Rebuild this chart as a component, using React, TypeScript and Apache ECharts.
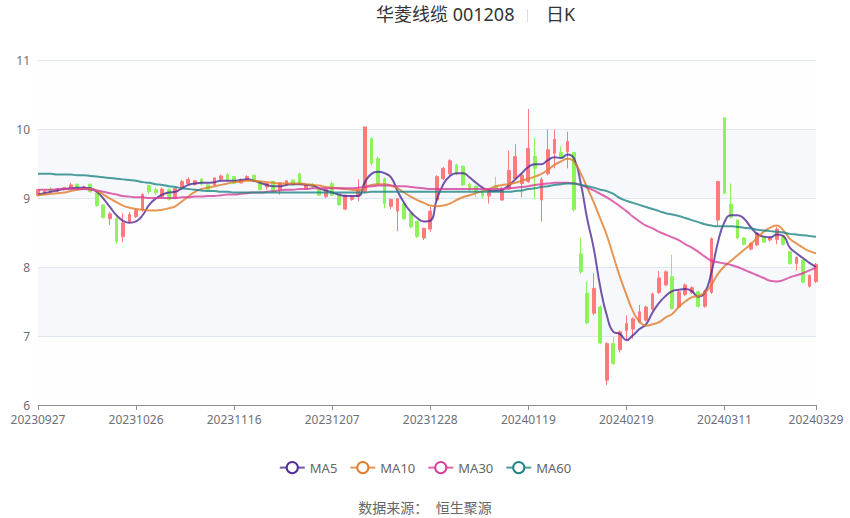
import * as echarts from 'echarts';
import { useEffect, useRef } from 'react';

const dates = [
  '20230927', '20230928',
  '20231009', '20231010', '20231011', '20231012', '20231013', '20231016', '20231017', '20231018', '20231019', '20231020',
  '20231023', '20231024', '20231025', '20231026', '20231027', '20231030', '20231031',
  '20231101', '20231102', '20231103', '20231106', '20231107', '20231108', '20231109', '20231110', '20231113', '20231114',
  '20231115', '20231116', '20231117', '20231120', '20231121', '20231122', '20231123', '20231124', '20231127', '20231128',
  '20231129', '20231130',
  '20231201', '20231204', '20231205', '20231206', '20231207', '20231208', '20231211', '20231212', '20231213', '20231214',
  '20231215', '20231218', '20231219', '20231220', '20231221', '20231222', '20231225', '20231226', '20231227', '20231228',
  '20231229',
  '20240102', '20240103', '20240104', '20240105', '20240108', '20240109', '20240110', '20240111', '20240112', '20240115',
  '20240116', '20240117', '20240118', '20240119', '20240122', '20240123', '20240124', '20240125', '20240126', '20240129',
  '20240130', '20240131',
  '20240201', '20240202', '20240205', '20240206', '20240207', '20240208', '20240219', '20240220', '20240221', '20240222',
  '20240223', '20240226', '20240227', '20240228', '20240229',
  '20240301', '20240304', '20240305', '20240306', '20240307', '20240308', '20240311', '20240312', '20240313', '20240314',
  '20240315', '20240318', '20240319', '20240320', '20240321', '20240322', '20240325', '20240326', '20240327', '20240328',
  '20240329',
];

// [open, close, low, high]
const kline: number[][] = [
  [9.04, 9.12, 9.02, 9.13], [9.07, 9.1, 9.05, 9.12], [9.13, 9.1, 9.08, 9.16], [9.1, 9.13, 9.09, 9.14],
  [9.12, 9.15, 9.11, 9.16], [9.15, 9.19, 9.14, 9.22], [9.2, 9.13, 9.12, 9.21], [9.15, 9.16, 9.13, 9.18],
  [9.2, 9.09, 9.08, 9.21], [9.07, 8.89, 8.87, 9.08], [8.9, 8.72, 8.7, 8.91], [8.7, 8.77, 8.61, 8.8],
  [8.7, 8.37, 8.33, 8.72], [8.44, 8.64, 8.36, 8.78], [8.66, 8.76, 8.64, 8.8], [8.73, 8.82, 8.71, 8.85],
  [8.83, 9.05, 8.8, 9.07], [9.18, 9.09, 9.06, 9.19], [9.12, 9.08, 9.05, 9.15], [9.02, 9.13, 9.0, 9.15],
  [9.12, 8.98, 8.96, 9.14], [9.0, 9.14, 8.98, 9.15], [9.14, 9.24, 9.12, 9.26], [9.21, 9.27, 9.19, 9.3],
  [9.2, 9.25, 9.18, 9.26], [9.27, 9.2, 9.18, 9.29], [9.19, 9.12, 9.1, 9.2], [9.19, 9.29, 9.17, 9.3],
  [9.27, 9.32, 9.25, 9.34], [9.34, 9.27, 9.25, 9.36], [9.31, 9.21, 9.2, 9.32], [9.22, 9.27, 9.21, 9.28],
  [9.26, 9.31, 9.25, 9.33], [9.33, 9.24, 9.23, 9.34], [9.24, 9.12, 9.11, 9.25], [9.16, 9.21, 9.12, 9.22],
  [9.24, 9.09, 9.08, 9.25], [9.12, 9.22, 9.05, 9.23], [9.19, 9.25, 9.18, 9.26], [9.26, 9.19, 9.18, 9.27],
  [9.35, 9.2, 9.19, 9.37], [9.14, 9.19, 9.12, 9.2], [9.2, 9.16, 9.14, 9.22], [9.14, 9.04, 9.03, 9.15],
  [9.02, 9.12, 9.0, 9.13], [9.21, 9.04, 9.03, 9.24], [9.04, 8.9, 8.89, 9.05], [8.84, 9.04, 8.82, 9.05],
  [8.98, 9.02, 8.96, 9.04], [9.02, 9.12, 8.95, 9.27], [9.09, 10.03, 9.07, 10.03], [9.86, 9.5, 9.47, 9.88],
  [9.57, 9.21, 9.19, 9.6], [9.28, 8.92, 8.85, 9.3], [8.88, 8.98, 8.84, 8.99], [8.81, 8.99, 8.52, 9.0],
  [8.92, 8.7, 8.68, 8.94], [8.78, 8.58, 8.56, 8.79], [8.66, 8.44, 8.42, 8.67], [8.42, 8.56, 8.39, 8.57],
  [8.55, 8.81, 8.51, 8.87], [8.97, 9.31, 8.95, 9.33], [9.28, 9.43, 9.26, 9.45], [9.35, 9.54, 9.33, 9.56],
  [9.48, 9.35, 9.33, 9.5], [9.46, 9.19, 9.17, 9.47], [9.2, 9.12, 9.1, 9.22], [9.17, 9.1, 9.02, 9.19],
  [9.08, 9.03, 9.0, 9.1], [9.03, 9.12, 8.92, 9.14], [9.18, 9.12, 9.1, 9.31], [8.97, 9.14, 8.96, 9.16],
  [9.13, 9.4, 9.12, 9.69], [9.28, 9.6, 9.26, 9.78], [9.21, 9.33, 9.01, 9.35], [9.24, 9.72, 9.22, 10.29],
  [9.6, 9.43, 8.99, 9.87], [8.97, 9.27, 8.66, 9.3], [9.35, 9.7, 9.33, 9.99], [9.65, 9.85, 9.43, 9.99],
  [9.66, 9.59, 9.57, 9.75], [9.67, 9.82, 9.43, 9.96], [9.66, 8.83, 8.8, 9.67], [8.19, 7.93, 7.9, 8.43],
  [7.62, 7.19, 7.17, 7.79], [7.33, 7.69, 7.3, 7.91], [7.42, 6.9, 6.88, 7.44], [6.36, 6.89, 6.29, 6.91],
  [6.89, 6.6, 6.58, 6.99], [6.8, 7.06, 6.76, 7.08], [7.08, 7.18, 6.94, 7.3], [7.1, 7.25, 6.96, 7.27],
  [7.2, 7.35, 7.18, 7.45], [7.23, 7.42, 7.21, 7.44], [7.39, 7.61, 7.37, 7.63], [7.63, 7.84, 7.61, 7.94],
  [7.74, 7.93, 7.72, 7.95], [7.86, 7.4, 7.38, 8.18], [7.42, 7.64, 7.4, 7.66], [7.6, 7.74, 7.58, 7.76],
  [7.63, 7.7, 7.61, 7.72], [7.64, 7.43, 7.41, 7.66], [7.43, 7.65, 7.41, 7.67], [7.63, 8.41, 7.61, 8.43],
  [8.68, 9.24, 8.6, 9.25], [10.16, 9.07, 9.06, 10.17], [8.91, 8.72, 8.7, 9.21], [8.68, 8.42, 8.4, 8.69],
  [8.42, 8.33, 8.31, 8.43], [8.26, 8.34, 8.24, 8.36], [8.32, 8.49, 8.3, 8.5], [8.43, 8.36, 8.35, 8.44],
  [8.39, 8.43, 8.37, 8.44], [8.4, 8.55, 8.33, 8.58], [8.44, 8.33, 8.31, 8.45], [8.22, 8.05, 8.03, 8.23],
  [8.05, 8.14, 7.95, 8.15], [8.1, 7.78, 7.76, 8.11], [7.72, 7.88, 7.7, 7.89], [7.79, 8.04, 7.77, 8.06],
];

const ma5 = [
  9.05, 9.07, 9.09, 9.11, 9.13, 9.14, 9.15, 9.15, 9.14, 9.09, 8.99, 8.87, 8.75, 8.67, 8.64, 8.66, 8.75, 8.9, 8.99, 9.05,
  9.08, 9.09, 9.14, 9.19, 9.21, 9.22, 9.22, 9.23, 9.25, 9.25, 9.25, 9.26, 9.27, 9.25, 9.22, 9.19, 9.17, 9.17, 9.19, 9.2,
  9.2, 9.19, 9.18, 9.14, 9.11, 9.08, 9.05, 9.03, 9.03, 9.03, 9.23, 9.35, 9.38, 9.36, 9.3, 9.1, 8.93, 8.8, 8.71, 8.66,
  8.67, 8.98, 9.2, 9.32, 9.36, 9.36, 9.3, 9.22, 9.15, 9.11, 9.1, 9.12, 9.18, 9.27, 9.36, 9.45, 9.49, 9.49, 9.55, 9.59,
  9.58, 9.63, 9.57, 9.22, 8.7, 8.27, 7.71, 7.3, 7.06, 7.03, 6.94, 7.01, 7.1, 7.17, 7.34, 7.48, 7.58, 7.65, 7.67, 7.68,
  7.65, 7.57, 7.63, 7.92, 8.36, 8.65, 8.75, 8.75, 8.7, 8.58, 8.48, 8.44, 8.43, 8.47, 8.45, 8.28, 8.2, 8.13, 8.06, 8.0,
];

const ma10 = [
  9.04, 9.05, 9.06, 9.07, 9.08, 9.1, 9.12, 9.13, 9.13, 9.1, 9.05, 8.99, 8.94, 8.89, 8.86, 8.84, 8.83, 8.82, 8.82, 8.83,
  8.85, 8.88, 8.95, 9.02, 9.09, 9.13, 9.15, 9.17, 9.19, 9.21, 9.23, 9.24, 9.25, 9.25, 9.24, 9.23, 9.22, 9.21, 9.21, 9.21,
  9.21, 9.2, 9.19, 9.18, 9.16, 9.15, 9.14, 9.13, 9.12, 9.11, 9.15, 9.19, 9.2, 9.2, 9.18, 9.14, 9.08, 9.02, 8.97, 8.93,
  8.89, 8.88, 8.89, 8.92, 8.97, 9.01, 9.04, 9.07, 9.1, 9.13, 9.17, 9.19, 9.2, 9.22, 9.25, 9.28, 9.31, 9.35, 9.41, 9.48,
  9.53, 9.57, 9.52, 9.36, 9.15, 8.94, 8.7, 8.46, 8.16, 7.86, 7.6, 7.36, 7.21, 7.15, 7.17, 7.2, 7.27, 7.32, 7.42, 7.5,
  7.56, 7.58, 7.63, 7.74, 7.9, 8.01, 8.09, 8.17, 8.25, 8.33, 8.42, 8.51, 8.57, 8.6, 8.53, 8.41, 8.34, 8.28, 8.23, 8.2,
];

const ma30 = [
  9.12, 9.12, 9.12, 9.13, 9.13, 9.13, 9.13, 9.13, 9.12, 9.11, 9.09, 9.07, 9.05, 9.03, 9.02, 9.01, 9.01, 9.0, 9.0, 9.0,
  9.0, 9.0, 9.01, 9.01, 9.02, 9.02, 9.03, 9.03, 9.04, 9.05, 9.05, 9.06, 9.07, 9.08, 9.08, 9.09, 9.1, 9.11, 9.12, 9.12,
  9.13, 9.13, 9.14, 9.14, 9.14, 9.14, 9.14, 9.14, 9.14, 9.15, 9.16, 9.17, 9.18, 9.18, 9.18, 9.17, 9.17, 9.16, 9.15, 9.14,
  9.13, 9.13, 9.13, 9.13, 9.13, 9.13, 9.13, 9.13, 9.13, 9.13, 9.13, 9.13, 9.14, 9.15, 9.16, 9.17, 9.19, 9.2, 9.21, 9.22,
  9.22, 9.22, 9.21, 9.19, 9.15, 9.11, 9.06, 9.01, 8.95, 8.88, 8.81, 8.73, 8.66, 8.6, 8.56, 8.51, 8.47, 8.43, 8.39, 8.33,
  8.28, 8.22, 8.15, 8.09, 8.07, 8.05, 8.03, 8.0, 7.96, 7.92, 7.88, 7.84, 7.8, 7.79, 7.81, 7.85, 7.88, 7.91, 7.95, 7.99,
];

const ma60 = [
  9.35, 9.35, 9.35, 9.34, 9.34, 9.34, 9.33, 9.33, 9.32, 9.31, 9.3, 9.29, 9.28, 9.27, 9.26, 9.25, 9.23, 9.22, 9.2, 9.19,
  9.17, 9.16, 9.14, 9.13, 9.12, 9.11, 9.1, 9.1, 9.09, 9.09, 9.08, 9.08, 9.08, 9.08, 9.08, 9.08, 9.08, 9.08, 9.08, 9.08,
  9.08, 9.08, 9.08, 9.08, 9.08, 9.08, 9.08, 9.08, 9.08, 9.08, 9.08, 9.09, 9.09, 9.09, 9.09, 9.09, 9.09, 9.09, 9.09, 9.09,
  9.09, 9.09, 9.09, 9.09, 9.09, 9.09, 9.09, 9.09, 9.09, 9.09, 9.09, 9.09, 9.09, 9.1, 9.11, 9.13, 9.14, 9.16, 9.17, 9.19,
  9.2, 9.21, 9.21, 9.19, 9.17, 9.15, 9.12, 9.1, 9.06, 9.0, 8.96, 8.93, 8.9, 8.87, 8.84, 8.81, 8.78, 8.76, 8.74, 8.71,
  8.68, 8.65, 8.62, 8.6, 8.59, 8.59, 8.59, 8.58, 8.57, 8.56, 8.54, 8.53, 8.52, 8.51, 8.5, 8.48, 8.47, 8.46, 8.45, 8.44,
];

const maNames = ['MA5', 'MA10', 'MA30', 'MA60'];
const maColors = ['#4f2c96', '#e07c2a', '#d4409a', '#1f8585'];
const yTicks = { min: 6, max: 11, interval: 1 };

const upColor = '#ff7b7b';
const downColor = '#8ef25a';
const fontFamily = "'Noto Sans', 'Noto Sans CJK SC', sans-serif";

function buildOption() {
  const maData = [ma5, ma10, ma30, ma60];
  const lastIndex = dates.length - 1;
  const showLabel = (index: number) => index % 15 === 0 || index === lastIndex;
  return {
    animation: false,
    textStyle: { fontFamily },
    grid: { left: 38, right: 34, top: 60, bottom: 113 },
    legend: {
      data: maNames,
      top: 456,
      left: 'center',
      itemWidth: 25,
      itemHeight: 14,
      itemGap: 12,
      textStyle: { color: '#666', fontSize: 13, fontFamily },
    },
    xAxis: {
      type: 'category',
      data: dates,
      boundaryGap: false,
      axisLine: { lineStyle: { color: '#8a8d96' } },
      axisTick: { interval: showLabel },
      axisLabel: { interval: showLabel, color: '#6E7079', fontSize: 12, hideOverlap: false },
      splitLine: { show: false },
    },
    yAxis: {
      type: 'value',
      scale: true,
      min: yTicks.min,
      max: yTicks.max,
      interval: yTicks.interval,
      axisLine: { show: false },
      axisTick: { show: false },
      axisLabel: { color: '#6E7079', fontSize: 12 },
      splitLine: { lineStyle: { color: '#E0E6F1' } },
      splitArea: {
        show: true,
        areaStyle: { color: ['rgba(250,250,250,0.2)', 'rgba(210,219,238,0.2)'] },
      },
    },
    graphic: [
      {
        type: 'text',
        left: 376,
        top: 5,
        style: { text: '华菱线缆 001208', fill: '#333', fontSize: 18, fontFamily },
      },
      {
        type: 'rect',
        left: 527,
        top: 9,
        shape: { width: 1, height: 13 },
        style: { fill: '#dcdcdc' },
      },
      {
        type: 'text',
        left: 546,
        top: 5,
        style: { text: '日K', fill: '#333', fontSize: 18, fontFamily },
      },
      {
        type: 'text',
        left: 'center',
        top: 500,
        style: { text: '数据来源：  恒生聚源', fill: '#666', fontSize: 14, fontFamily },
      },
    ],
    series: [
      {
        name: '日K',
        type: 'candlestick',
        data: kline,
        itemStyle: {
          color: upColor,
          color0: downColor,
          borderColor: upColor,
          borderColor0: downColor,
        },
      },
      ...maNames.map((name, index) => ({
        name,
        type: 'line',
        data: maData[index],
        smooth: true,
        showSymbol: false,
        symbol: 'emptyCircle',
        symbolSize: 8,
        color: maColors[index],
        lineStyle: { width: 2, opacity: 0.8 },
        z: 3,
      })),
    ],
  };
}

export default function App() {
  const ref = useRef<HTMLDivElement | null>(null);

  useEffect(() => {
    if (!ref.current) return;
    const chart = echarts.init(ref.current, null, { renderer: 'svg' });
    chart.setOption(buildOption());
    return () => chart.dispose();
  }, []);

  return (
    <div
      ref={ref}
      style={{ position: 'fixed', left: 0, top: 0, width: 850, height: 518, background: '#fff' }}
    />
  );
}
